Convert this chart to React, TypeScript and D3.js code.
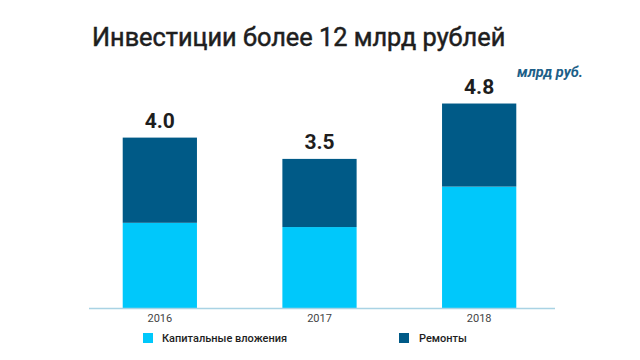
import React from "react";
import * as d3 from "d3";

const years = ["2016", "2017", "2018"];
const capital = [2.0, 1.9, 2.85];
const repairs = [2.0, 1.6, 1.95];
const totals = ["4.0", "3.5", "4.8"];
const seriesNames = ["Капитальные вложения", "Ремонты"];
const colors = ["#00C8FB", "#005A87"];

export default function App() {
  const W = 640, H = 360;
  const baseY = 308;
  const x = d3.scaleBand<string>().domain(years).range([80, 559]).paddingInner(0.535).paddingOuter(0.2675);
  const y = d3.scaleLinear().domain([0, 5]).range([baseY, baseY - 5 * 42.6]);
  const rows = years.map((yr, i) => ({ year: yr, capital: capital[i], repairs: repairs[i] }));
  const stack = d3.stack<any>().keys(["capital", "repairs"])(rows);
  const font = "Roboto, 'Noto Sans', sans-serif";
  return (
    <svg width={W} height={H} style={{ position: "absolute", left: 0, top: 0, background: "#fff" }} fontFamily={font}>
      <rect width={W} height={H} fill="#fff" />
      <text x={92} y={46} fontSize={25.3} fontWeight={400} fill="#1e1e1e" stroke="#1e1e1e" strokeWidth={0.5}>Инвестиции более 12 млрд рублей</text>
      <text x={517} y={77} fontSize={14.5} fontWeight={700} fontStyle="italic" fill="#1d5f88">млрд руб.</text>
      {stack.map((s, si) => (
        <g key={si} fill={colors[si]}>
          {s.map((d, i) => (
            <rect key={i} x={x(years[i])} width={x.bandwidth()} y={y(d[1])} height={y(d[0]) - y(d[1])} />
          ))}
        </g>
      ))}
      <line x1={89} x2={555} y1={baseY + 0.5} y2={baseY + 0.5} stroke="#a9d3e4" strokeWidth={1.5} />
      {years.map((yr, i) => (
        <g key={yr}>
          <text x={(x(yr) as number) + x.bandwidth() / 2} y={y(capital[i] + repairs[i]) - 10} textAnchor="middle" fontSize={21} fontWeight={700} fill="#1e1e1e">{totals[i]}</text>
          <text x={(x(yr) as number) + x.bandwidth() / 2} y={322} textAnchor="middle" fontSize={11} fill="#444">{yr}</text>
        </g>
      ))}
      <rect x={143} y={333} width={10} height={10} fill={colors[0]} />
      <text x={162} y={342} fontSize={11} fontWeight={500} fill="#1e1e1e">{seriesNames[0]}</text>
      <rect x={399} y={333} width={10} height={10} fill={colors[1]} />
      <text x={419} y={342} fontSize={11} fontWeight={500} fill="#1e1e1e">{seriesNames[1]}</text>
    </svg>
  );
}
